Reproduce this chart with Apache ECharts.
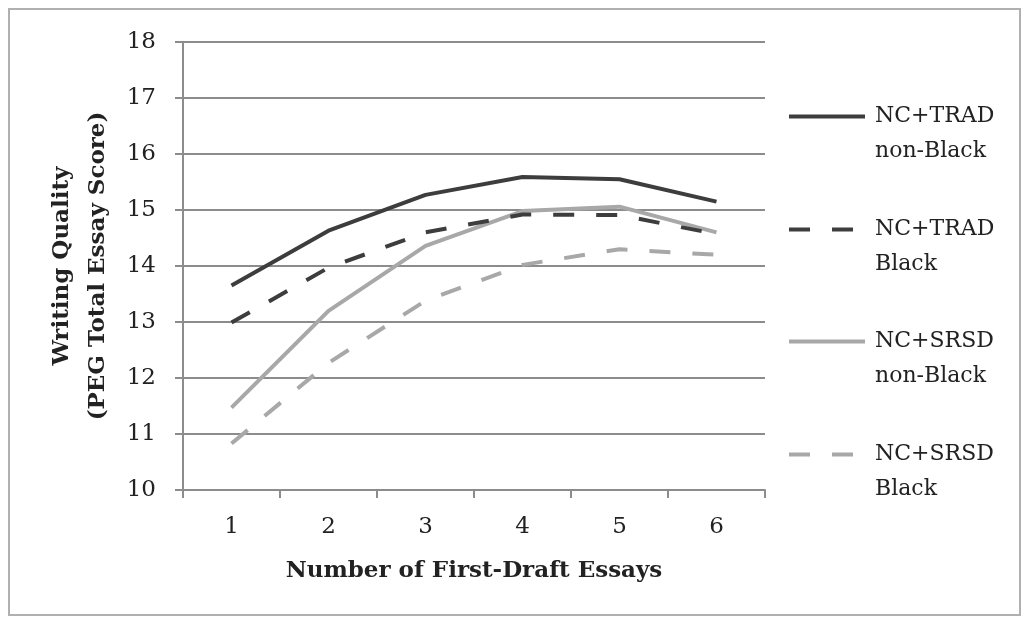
<!DOCTYPE html>
<html>
<head>
<meta charset="utf-8">
<script src="https://cdn.jsdelivr.net/npm/echarts@6/dist/echarts.min.js"></script>
<style>html,body{margin:0;padding:0;background:#fff}#c{width:1024px;height:621px}</style>
</head>
<body>
<div id="c"></div>
<script>
const categories = ['1', '2', '3', '4', '5', '6'];
const seriesNames = ['NC+TRAD\nnon-Black', 'NC+TRAD\nBlack', 'NC+SRSD\nnon-Black', 'NC+SRSD\nBlack'];
const tradNonBlack = [13.65, 14.63, 15.27, 15.59, 15.55, 15.15];
const tradBlack = [12.99, 13.97, 14.6, 14.92, 14.91, 14.57];
const srsdNonBlack = [11.47, 13.2, 14.36, 14.98, 15.06, 14.6];
const srsdBlack = [10.83, 12.27, 13.38, 14.02, 14.3, 14.2];
const yTicks = { min: 10, max: 18, interval: 1 };

const dark = '#3d3d3d';
const light = '#a8a8a8';
const serif = 'DejaVu Serif';
const dash = [21, 22];

const styles = [
  { color: dark, type: 'solid' },
  { color: dark, type: dash },
  { color: light, type: 'solid' },
  { color: light, type: dash }
];
const values = [tradNonBlack, tradBlack, srsdNonBlack, srsdBlack];
const legendTops = [64, 177, 289, 402];

const chart = echarts.init(document.getElementById('c'), null, { renderer: 'canvas' });
chart.setOption({
  animation: false,
  backgroundColor: '#fff',
  graphic: [{
    type: 'rect', shape: { x: 9, y: 9, width: 1011, height: 606 },
    style: { fill: 'none', stroke: '#b0b0b0', lineWidth: 2 }, silent: true, z: -1
  }],
  grid: { left: 183, right: 259, top: 42, bottom: 131 },
  legend: seriesNames.map((n, i) => ({
    data: [n],
    left: 787,
    top: legendTops[i],
    padding: 0,
    itemWidth: 76,
    itemHeight: 14,
    itemGap: 10,
    itemStyle: { opacity: 0 },
    lineStyle: { width: 4 },
    formatter: name => ' \n' + name,
    textStyle: { fontFamily: serif, fontSize: 22, color: '#222', lineHeight: 35, padding: [0, 0, 0, 5] }
  })),
  xAxis: {
    type: 'category',
    data: categories,
    boundaryGap: true,
    axisLine: { show: true, lineStyle: { color: '#8c8c8c', width: 2 } },
    axisTick: { show: true, length: 8, lineStyle: { color: '#8c8c8c', width: 2 } },
    axisLabel: { fontFamily: serif, fontSize: 23, color: '#222', margin: 26 },
    name: 'Number of First-Draft Essays',
    nameLocation: 'middle',
    nameGap: 70,
    nameTextStyle: { fontFamily: serif, fontSize: 23, fontWeight: 'bold', color: '#222' }
  },
  yAxis: {
    type: 'value',
    min: yTicks.min, max: yTicks.max, interval: yTicks.interval,
    axisLine: { show: true, lineStyle: { color: '#8c8c8c', width: 2 } },
    axisTick: { show: true, length: 8, lineStyle: { color: '#8c8c8c', width: 2 } },
    splitLine: { show: true, lineStyle: { color: '#8c8c8c', width: 2 } },
    axisLabel: { fontFamily: serif, fontSize: 23, color: '#222', margin: 27 },
    name: 'Writing Quality\n(PEG Total Essay Score)',
    nameLocation: 'middle',
    nameGap: 57,
    nameTextStyle: { fontFamily: serif, fontSize: 23, fontWeight: 'bold', color: '#222', lineHeight: 36 }
  },
  series: seriesNames.map((n, i) => ({
    name: n,
    type: 'line',
    data: values[i],
    symbol: 'none',
    lineStyle: { color: styles[i].color, width: 4, type: styles[i].type },
    itemStyle: { color: styles[i].color },
    z: 10 - i
  }))
});
</script>
</body>
</html>
